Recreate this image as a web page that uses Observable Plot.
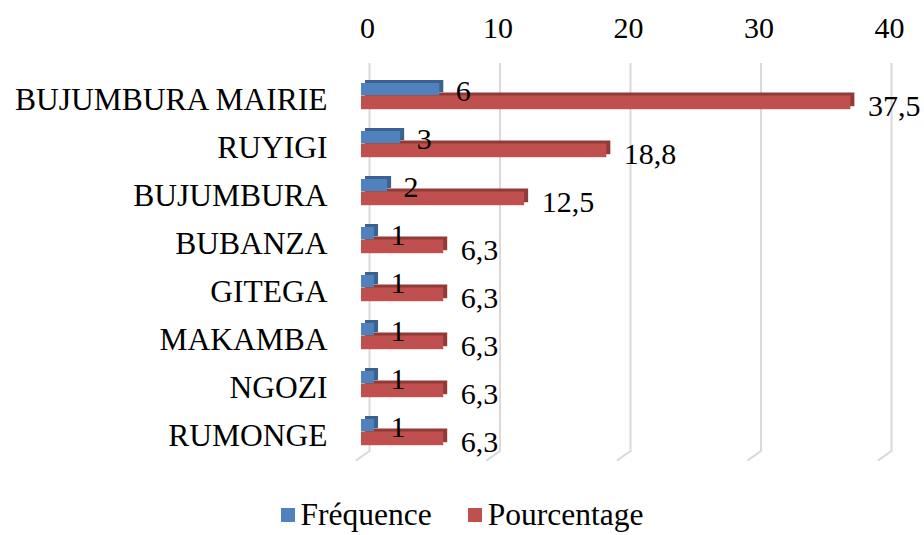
<!DOCTYPE html>
<html>
<head>
<meta charset="utf-8">
<script src="https://cdn.jsdelivr.net/npm/d3@7"></script>
<script src="https://cdn.jsdelivr.net/npm/@observablehq/plot@0.6"></script>
<style>
  html, body { margin: 0; padding: 0; background: #fff; }
  body { width: 924px; height: 535px; overflow: hidden; font-family: "Liberation Serif", "Times New Roman", serif; }
  #legend { height: 40px; display: flex; align-items: center; justify-content: center; font-size: 31.5px; color: #000; font-family: "Liberation Serif", "Times New Roman", serif; }
  #legend .item { display: flex; align-items: center; margin: 0 18px; }
  #legend .sw { width: 14px; height: 14px; margin-right: 6px; }
</style>
</head>
<body>
<div id="chart"></div>
<div id="legend"></div>
<script>
const categories = ["BUJUMBURA MAIRIE", "RUYIGI", "BUJUMBURA", "BUBANZA", "GITEGA", "MAKAMBA", "NGOZI", "RUMONGE"];
const frequence = [6, 3, 2, 1, 1, 1, 1, 1];
const pourcentage = [37.5, 18.8, 12.5, 6.3, 6.3, 6.3, 6.3, 6.3];
const xTicks = [0, 10, 20, 30, 40];
const series = ["Fréquence", "Pourcentage"];
const colors = ["#4f81bd", "#c0504d"];
const darkColors = ["#3a6290", "#923a37"];

const rows = categories.map((c, i) => ({cat: c, f: frequence[i], p: pourcentage[i]}));
const fmt = d => String(d).replace(".", ",");
const last = categories[categories.length - 1];

const slantShape = {
  draw(context, l) { context.moveTo(0, 0); context.lineTo(0, -l); }
};

const font = "Liberation Serif, Times New Roman, serif";

const chart = Plot.plot({
  width: 924,
  height: 495,
  marginLeft: 361,
  marginRight: 41,
  marginTop: 69,
  marginBottom: 40,
  style: {fontFamily: font, background: "#fff", color: "#000", overflow: "visible"},
  x: {domain: [0, 40], range: [361, 883]},
  y: {domain: categories, padding: 0},
  marks: [
    Plot.ruleX(xTicks, {dx: 8, stroke: "#d9d9d9", strokeWidth: 2, insetTop: -6, insetBottom: 3}),
    Plot.vector(xTicks, {x: d => d, y: () => last, dx: 8, dy: 20.5, length: 15.8, rotate: 235, anchor: "start", shape: slantShape, stroke: "#d9d9d9", strokeWidth: 2}),
    Plot.barX(rows, {x: "p", y: "cat", insetTop: 25.5, insetBottom: 8.8, dx: 4, dy: -3, fill: darkColors[1]}),
    Plot.barX(rows, {x: "p", y: "cat", insetTop: 25.5, insetBottom: 8.8, fill: colors[1]}),
    Plot.barX(rows, {x: "f", y: "cat", insetTop: 13, insetBottom: 22.8, dx: 4, dy: -3, fill: darkColors[0]}),
    Plot.barX(rows, {x: "f", y: "cat", insetTop: 13, insetBottom: 22.8, fill: colors[0]}),
    Plot.text(rows, {x: "f", y: "cat", text: d => fmt(d.f), dx: 16, dy: -3, textAnchor: "start", fontSize: 30, fontFamily: font, fill: "#000"}),
    Plot.text(rows, {x: "p", y: "cat", text: d => fmt(d.p), dx: 17, dy: 11.5, textAnchor: "start", fontSize: 30, fontFamily: font, fill: "#000"}),
    Plot.axisX(xTicks, {anchor: "top", tickSize: 0, tickPadding: 32, dx: 6, fontSize: 30, fontFamily: font, tickFormat: fmt, label: null}),
    Plot.axisY({anchor: "left", tickSize: 0, tickPadding: 34, dy: 5, fontSize: 31.5, fontFamily: font, label: null})
  ]
});
document.getElementById("chart").appendChild(chart);

const legend = document.getElementById("legend");
series.forEach((s, i) => {
  const item = document.createElement("div");
  item.className = "item";
  const sw = document.createElement("div");
  sw.className = "sw";
  sw.style.background = colors[i];
  const t = document.createElement("span");
  t.textContent = s;
  item.appendChild(sw);
  item.appendChild(t);
  legend.appendChild(item);
});
</script>
</body>
</html>
